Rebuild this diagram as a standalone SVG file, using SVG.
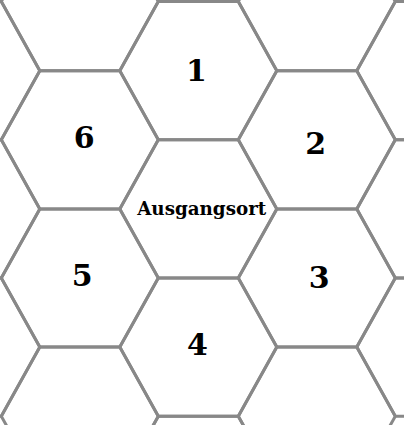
<svg xmlns="http://www.w3.org/2000/svg" xmlns:xlink="http://www.w3.org/1999/xlink" width="404" height="425" viewBox="0 0 404 425">
<style>
.hex{fill:none;stroke:#888888;stroke-width:3;stroke-linejoin:miter}
.num{font-family:"DejaVu Serif","Liberation Serif",serif;font-weight:bold;font-size:30px;fill:#000;text-anchor:middle}
.lbl{font-family:"DejaVu Serif","Liberation Serif",serif;font-weight:bold;font-size:18.3px;fill:#000;text-anchor:middle}
</style>
<defs>
<polygon id="hx" class="hex" points="-78.5,0 -40,-69.1 40,-69.1 78.5,0 40,69.1 -40,69.1"/>
</defs>
<rect width="404" height="425" fill="#ffffff"/>
<g id="grid">
<g id="cell-a1"><use xlink:href="#hx" href="#hx" x="-38.7" y="70.7"/></g>
<g id="cell-a2"><use xlink:href="#hx" href="#hx" x="-38.7" y="208.9"/></g>
<g id="cell-a3"><use xlink:href="#hx" href="#hx" x="-38.7" y="347.1"/></g>
<g id="cell-b0"><use xlink:href="#hx" href="#hx" x="79.8" y="1.6"/></g>
<g id="cell-b4"><use xlink:href="#hx" href="#hx" x="79.8" y="416.2"/></g>
<g id="cell-c4"><use xlink:href="#hx" href="#hx" x="198.3" y="485.3"/></g>
<g id="cell-d0"><use xlink:href="#hx" href="#hx" x="316.8" y="1.6"/></g>
<g id="cell-d4"><use xlink:href="#hx" href="#hx" x="316.8" y="416.2"/></g>
<g id="cell-e1"><use xlink:href="#hx" href="#hx" x="435.3" y="70.7"/></g>
<g id="cell-e2"><use xlink:href="#hx" href="#hx" x="435.3" y="208.9"/></g>
<g id="cell-e3"><use xlink:href="#hx" href="#hx" x="435.3" y="347.1"/></g>
</g>
<g id="connectors"></g>
<g id="node-1"><use xlink:href="#hx" href="#hx" x="198.3" y="70.7"/><text class="num" x="196.5" y="80.7">1</text></g>
<g id="node-6"><use xlink:href="#hx" href="#hx" x="79.8" y="139.8"/><text class="num" x="84.3" y="148.3">6</text></g>
<g id="node-2"><use xlink:href="#hx" href="#hx" x="316.8" y="139.8"/><text class="num" x="315.7" y="154">2</text></g>
<g id="node-start"><use xlink:href="#hx" href="#hx" x="198.3" y="208.9"/><text class="lbl" x="201.7" y="214.5">Ausgangsort</text></g>
<g id="node-5"><use xlink:href="#hx" href="#hx" x="79.8" y="278"/><text class="num" x="82.3" y="285.5">5</text></g>
<g id="node-3"><use xlink:href="#hx" href="#hx" x="316.8" y="278"/><text class="num" x="319.3" y="288">3</text></g>
<g id="node-4"><use xlink:href="#hx" href="#hx" x="198.3" y="347.1"/><text class="num" x="197.5" y="355">4</text></g>
</svg>
